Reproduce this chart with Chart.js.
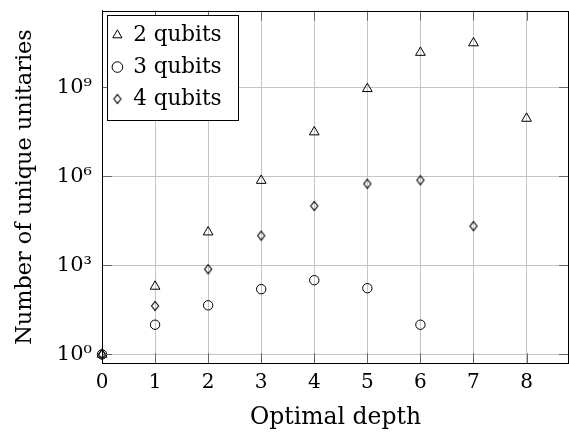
<!DOCTYPE html>
<html>
<head>
<meta charset="utf-8">
<script src="https://cdn.jsdelivr.net/npm/chart.js@4.4.0/dist/chart.umd.min.js"></script>
<style>
html, body { margin: 0; padding: 0; background: #fff; overflow: hidden; }
canvas { display: block; }
</style>
</head>
<body>
<canvas id="cht" width="569" height="434"></canvas>
<script>
var depths = [0, 1, 2, 3, 4, 5, 6, 7, 8];
var twoQubits = [1, 195, 13200, 720000, 31000000, 890000000, 14800000000, 31000000000, 89000000];
var threeQubits = [1, 10, 45, 158, 316, 170, 10];
var fourQubits = [1, 43, 740, 10000, 100000, 560000, 740000, 21000];
var seriesNames = ['2 qubits', '3 qubits', '4 qubits'];
var xTicks = [0, 1, 2, 3, 4, 5, 6, 7, 8];
var yTicks = [1, 1e3, 1e6, 1e9];
var yTickLabels = ['10⁰', '10³', '10⁶', '10⁹'];

var serif = 'DejaVu Serif';

function toPoints(vals) {
    var pts = [];
    for (var i = 0; i < vals.length; i++) pts.push({ x: depths[i], y: vals[i] });
    return pts;
}

// tall pgfplots-style diamond marker
function diamond(w, h) {
    var c = document.createElement('canvas');
    c.width = w + 3; c.height = h + 3;
    var g = c.getContext('2d');
    g.strokeStyle = '#000'; g.lineWidth = 1.15;
    g.beginPath();
    g.moveTo(c.width / 2, 1.5);
    g.lineTo(c.width - 1.5, c.height / 2);
    g.lineTo(c.width / 2, c.height - 1.5);
    g.lineTo(1.5, c.height / 2);
    g.closePath();
    g.stroke();
    return c;
}

var framePlugin = {
    id: 'frame',
    afterDraw: function (chart) {
        var a = chart.chartArea, ctx = chart.ctx;
        var xs = chart.scales.x, ys = chart.scales.y;
        ctx.save();
        // inward tick marks on all four sides
        ctx.strokeStyle = '#666'; ctx.lineWidth = 1;
        ctx.beginPath();
        xTicks.forEach(function (v) {
            var px = Math.round(xs.getPixelForValue(v)) + 0.5;
            ctx.moveTo(px, a.top); ctx.lineTo(px, a.top + 10);
            ctx.moveTo(px, a.bottom); ctx.lineTo(px, a.bottom - 10);
        });
        yTicks.forEach(function (v) {
            var py = Math.round(ys.getPixelForValue(v)) + 0.5;
            ctx.moveTo(a.left, py); ctx.lineTo(a.left + 10, py);
            ctx.moveTo(a.right, py); ctx.lineTo(a.right - 10, py);
        });
        ctx.stroke();
        ctx.strokeStyle = '#000';
        ctx.strokeRect(Math.round(a.left) + 0.5, Math.round(a.top) + 0.5,
            Math.round(a.right - a.left) - 1, Math.round(a.bottom - a.top) - 1);

        // legend frame with white background
        var lg = chart.legend, hb = lg.legendHitBoxes;
        var right = 0;
        hb.forEach(function (h) { right = Math.max(right, h.left + h.width); });
        var last = hb[hb.length - 1];
        var l = Math.round(a.left) + 5.5, t = Math.round(a.top) + 4.5;
        var r = Math.round(right) + 16.5, b = Math.round(last.top + last.height) + 10.5;
        ctx.fillStyle = '#fff';
        ctx.fillRect(l, t, r - l, b - t);
        ctx.strokeRect(l, t, r - l, b - t);
        ctx.restore();
        lg.draw();
    }
};

new Chart(document.getElementById('cht'), {
    type: 'scatter',
    data: {
        datasets: [
            { label: seriesNames[0], data: toPoints(twoQubits), pointStyle: 'triangle', pointRadius: 5.6,
              borderColor: '#000', backgroundColor: 'rgba(0,0,0,0)', borderWidth: 1, clip: false },
            { label: seriesNames[1], data: toPoints(threeQubits), pointStyle: 'circle', pointRadius: 4.7,
              borderColor: '#000', backgroundColor: 'rgba(0,0,0,0)', borderWidth: 1, clip: false },
            { label: seriesNames[2], data: toPoints(fourQubits), pointStyle: diamond(7, 9), pointRadius: 5,
              borderColor: '#000', backgroundColor: 'rgba(0,0,0,0)', borderWidth: 1, clip: false }
        ]
    },
    options: {
        responsive: false,
        animation: false,
        events: [],
        layout: { autoPadding: false, padding: { left: 0, right: 0, top: 10.7, bottom: 0 } },
        plugins: {
            tooltip: { enabled: false },
            legend: {
                position: 'chartArea',
                align: 'start',
                title: { display: true, text: '', font: { size: 10, lineHeight: 1 }, padding: 2 },
                labels: {
                    usePointStyle: true,
                    boxWidth: 10,
                    boxHeight: 7.5,
                    padding: 10.4,
                    color: '#000',
                    font: { family: serif, size: 21.5 }
                }
            }
        },
        scales: {
            x: {
                type: 'linear',
                min: 0,
                max: 8.8,
                afterBuildTicks: function (s) { s.ticks = xTicks.map(function (v) { return { value: v }; }); },
                afterFit: function (s) { s.height = 70.7; s.paddingLeft = 0; s.paddingRight = 0; },
                grid: { color: '#c4c4c4', lineWidth: 1, drawTicks: false },
                border: { color: '#000', width: 1 },
                ticks: { color: '#000', font: { family: serif, size: 20 }, padding: 7, maxRotation: 0, autoSkip: false },
                title: { display: true, text: 'Optimal depth', color: '#000', font: { family: serif, size: 23.5 },
                         padding: { top: 0, bottom: 2 } }
            },
            y: {
                type: 'logarithmic',
                min: Math.pow(10, -0.3),
                max: Math.pow(10, 11.58),
                afterBuildTicks: function (s) { s.ticks = yTicks.map(function (v) { return { value: v }; }); },
                afterFit: function (s) { s.width = 102; s.paddingTop = 0; s.paddingBottom = 0; },
                grid: { color: '#c4c4c4', lineWidth: 1, drawTicks: false },
                border: { color: '#000', width: 1 },
                ticks: {
                    color: '#000', font: { family: serif, size: 21 }, padding: 10, autoSkip: false,
                    callback: function (v) { var i = yTicks.indexOf(v); return i >= 0 ? yTickLabels[i] : ''; }
                },
                title: { display: true, text: 'Number of unique unitaries', color: '#000',
                         font: { family: serif, size: 22.4 }, padding: { top: 12, bottom: 0 } }
            }
        }
    },
    plugins: [framePlugin]
});
</script>
</body>
</html>
